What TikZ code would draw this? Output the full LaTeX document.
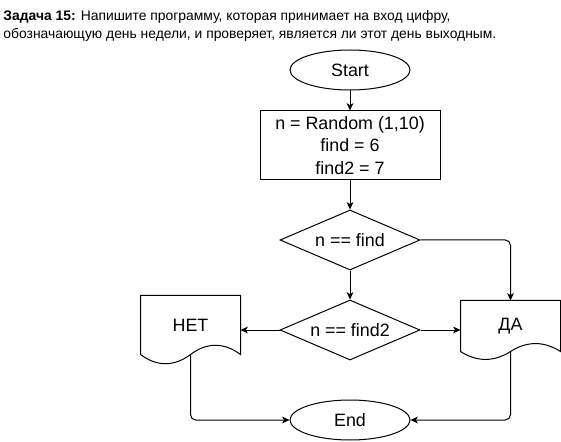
\documentclass[tikz,border=0pt]{standalone}
\usepackage{fontspec}
\setmainfont{Liberation Sans}
\usetikzlibrary{shapes.geometric,arrows.meta,calc}
\def\px{0.75pt}

\begin{document}
\begin{tikzpicture}[x=0.75pt,y=-0.75pt,line width=0.75pt,
		font=\fontsize{13.4}{17}\selectfont,
		>={Stealth[length=5.5pt,width=5pt,inset=1.5pt]},
		terminal/.style={ellipse,draw,minimum width=120*\px,minimum height=40*\px,inner sep=0pt},
		process/.style={rectangle,draw,minimum width=180*\px,minimum height=69*\px,align=center},
		decision/.style={diamond,draw,aspect=2.33,minimum width=140*\px,minimum height=60*\px,inner sep=0pt},
		docbox/.style={rectangle,minimum width=99*\px,minimum height=58*\px,inner sep=0pt}]
		\useasboundingbox (0,0) rectangle (561,442);
		\def\docpath#1#2{\draw (#1.north west) -- (#1.north east) -- (#1.south east)
			.. controls ($(#1.south east)+(-16.5,-0.6*#2)$) and ($(#1.south)+(16.5,-0.6*#2)$) .. (#1.south)
			.. controls ($(#1.south)+(-16.5,0.6*#2)$) and ($(#1.south west)+(16.5,0.6*#2)$) .. (#1.south west) -- cycle;}
		\node[anchor=north west,align=left,inner sep=0pt,font=\fontsize{10.4}{13.5}\selectfont] (task) at (3,10) {\textbf{Задача 15:} Напишите программу, которая принимает на вход цифру,\\обозначающую день недели, и проверяет, является ли этот день выходным.};
		\node[terminal] (start) at (350,70) {Start};
		\node[process] (init) at (350,145.5) {n = Random (1,10)\\find = 6\\find2 = 7};
		\node[decision] (check1) at (350,240) {n == find};
		\node[decision] (check2) at (350,330) {n == find2};
		\node[docbox] (no) at (190.5,325) {НЕТ};
		\node[docbox,minimum height=50*\px] (yes) at (510.5,326) {ДА};
		\node[terminal] (end) at (350,420) {End};
		\docpath{no}{20.5}
		\docpath{yes}{17.6}
		\draw[->] (start) -- (init);
		\draw[->] (init) -- (check1);
		\draw[->,rounded corners=4pt] (check1.east) -| (yes.north);
		\draw[->] (check1) -- (check2);
		\draw[->] (check2.west) -- (check2.west -| no.east);
		\draw[->] (check2.east) -- (check2.east -| yes.west);
		\draw[->,rounded corners=4pt] (no.south) |- (end.west);
		\draw[->,rounded corners=4pt] (yes.south) |- (end.east);
	\end{tikzpicture}
\end{document}
